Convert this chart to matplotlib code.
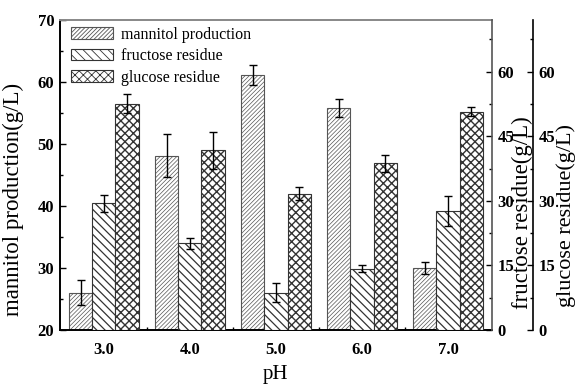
import matplotlib
matplotlib.use("Agg")
import matplotlib.pyplot as plt
import numpy as np
from matplotlib.ticker import MultipleLocator, FixedLocator

# ---- data ----
ph_labels = ["3.0", "4.0", "5.0", "6.0", "7.0"]
ph = [3.0, 4.0, 5.0, 6.0, 7.0]
mannitol = [26.0, 48.1, 61.1, 55.8, 30.0]
mannitol_err = [2.0, 3.5, 1.6, 1.4, 0.9]
fructose = [29.4, 20.1, 8.7, 14.2, 27.7]
fructose_err = [2.0, 1.3, 2.3, 0.8, 3.5]
glucose = [52.5, 41.8, 31.6, 38.7, 50.7]
glucose_err = [2.2, 4.3, 1.5, 1.9, 1.0]

plt.rcParams['font.family'] = ['Liberation Serif', 'DejaVu Serif']
plt.rcParams['hatch.linewidth'] = 0.6

fig = plt.figure(figsize=(5.76, 3.88), dpi=100)
ax = fig.add_axes([0.104, 0.1495, 0.75, 0.799])
ax2 = ax.twinx()
ax3 = ax.twinx()
ax3.spines['right'].set_position(('axes', 1.095))

w = 0.27
x = np.array(ph)
ekw = dict(elinewidth=1.0, capthick=1.0, ecolor='black')

b1 = ax.bar(x - w, mannitol, w, yerr=mannitol_err, capsize=3, color='white',
            edgecolor='#555555', linewidth=0.8, hatch='////////', error_kw=ekw,
            label='mannitol production')
b2 = ax2.bar(x, fructose, w, yerr=fructose_err, capsize=3, color='white',
             edgecolor='#333333', linewidth=0.8, hatch='\\\\\\\\', error_kw=ekw,
             label='fructose residue')
b3 = ax3.bar(x + w, glucose, w, yerr=glucose_err, capsize=3, color='white',
             edgecolor='#333333', linewidth=0.8, hatch='xxxx', error_kw=ekw,
             label='glucose residue')
for p in b1.patches:
    if hasattr(p, 'set_hatch_linewidth'):
        p.set_hatch_linewidth(0.5)
for p in b2.patches:
    if hasattr(p, 'set_hatch_linewidth'):
        p.set_hatch_linewidth(0.9)
for p in b3.patches:
    if hasattr(p, 'set_hatch_linewidth'):
        p.set_hatch_linewidth(1.0)

ax.set_xlim(2.49, 7.51)
ax.set_ylim(20, 70)
ax2.set_ylim(0, 72)
ax3.set_ylim(0, 72)

ax.set_xticks(ph)
ax.set_xticklabels(ph_labels)
ax.xaxis.set_minor_locator(FixedLocator([3.5, 4.5, 5.5, 6.5]))
ax.yaxis.set_major_locator(MultipleLocator(10))
ax.yaxis.set_minor_locator(MultipleLocator(5))
for a in (ax2, ax3):
    a.yaxis.set_major_locator(FixedLocator([0, 15, 30, 45, 60]))
    a.yaxis.set_minor_locator(MultipleLocator(7.5))

ax.tick_params(axis='both', which='major', direction='in', length=4, width=1.0,
               labelsize=12)
ax.tick_params(axis='both', which='minor', direction='in', length=2.5, width=1.0)
ax.tick_params(axis='x', which='both', pad=9)
ax.tick_params(axis='y', which='both', pad=4)
for a in (ax2, ax3):
    a.tick_params(axis='y', which='major', direction='in', length=4, width=1.0,
                  labelsize=12, pad=4)
    a.tick_params(axis='y', which='minor', direction='in', length=2.5, width=1.0)

for lab in ax.get_xticklabels() + ax.get_yticklabels() + ax2.get_yticklabels() + ax3.get_yticklabels():
    lab.set_fontweight('bold')

ax.spines['left'].set_linewidth(1.4)
ax.spines['bottom'].set_linewidth(1.4)
ax.spines['top'].set_color('#888888')
ax.spines['top'].set_linewidth(1.4)
for a in (ax2, ax3):
    a.spines['top'].set_visible(False)
    a.spines['left'].set_visible(False)
    a.spines['bottom'].set_visible(False)
ax2.spines['right'].set_color('#555555')
ax2.spines['right'].set_linewidth(1.2)
ax3.spines['right'].set_linewidth(1.2)
ax.spines['right'].set_visible(False)

ax.set_xlabel('pH', fontsize=15, labelpad=5)
ax.set_ylabel('mannitol production(g/L)', fontsize=16.5)
ax.yaxis.set_label_coords(-0.083, 0.42)
ax2.set_ylabel('fructose residue(g/L)', fontsize=16.5)
ax2.yaxis.set_label_coords(1.047, 0.38)
ax3.set_ylabel('glucose residue(g/L)', fontsize=16)
ax3.yaxis.set_label_coords(1.148, 0.37)

leg = ax3.legend([b1, b2, b3], ['mannitol production', 'fructose residue', 'glucose residue'],
                 loc='upper left', bbox_to_anchor=(0.0, 1.015), frameon=False,
                 fontsize=11.5, handlelength=2.6, handleheight=0.75,
                 labelspacing=0.35, handletextpad=0.55, borderaxespad=0.3)

fig.savefig('out.png', dpi=100)
